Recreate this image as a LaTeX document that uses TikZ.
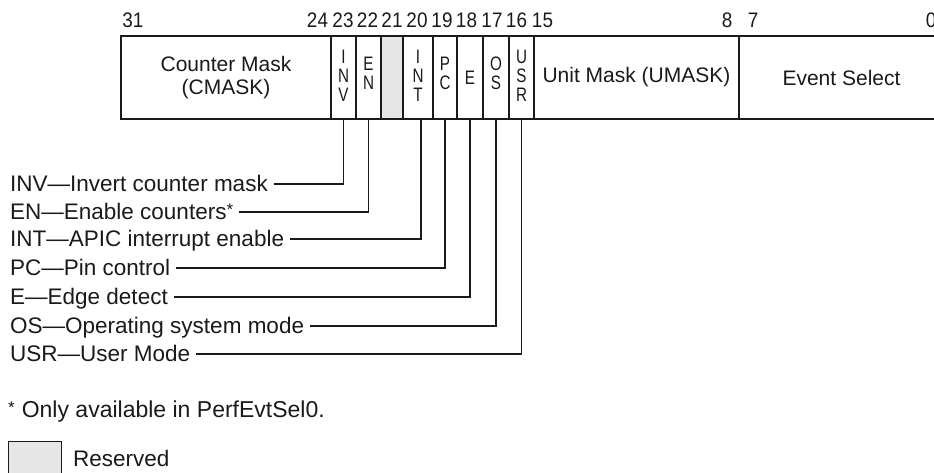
\documentclass[tikz,border=0pt]{standalone}
\usepackage{fontspec}
\setmainfont{Liberation Sans}
\newfontfamily\narrowdigits[FakeStretch=0.9]{Liberation Sans}
\newfontfamily\narrowcaps[FakeStretch=0.78]{Liberation Sans}
\definecolor{ink}{HTML}{1A1A1A}
\definecolor{resv}{HTML}{E6E6E6}
\newcommand\supast{\raisebox{3.5pt}{\fontsize{17}{17}\selectfont *}}
\begin{document}
\begin{tikzpicture}[x=1pt,y=-1pt,
  field/.style={draw=ink, line width=1.2pt, minimum height=83pt, inner sep=0pt,
    outer sep=0pt, anchor=north west, text=ink, align=center,
    font=\fontsize{21}{23}\selectfont},
  vtext/.style={inner sep=0pt, text=ink, align=center,
    font=\narrowcaps\fontsize{19.5}{19}\selectfont},
  bitnum/.style={anchor=base, text=ink, inner sep=0pt,
    font=\narrowdigits\fontsize{21}{24}\selectfont},
  legend/.style={anchor=base west, inner xsep=6pt, inner ysep=0pt, text height=17pt,
    text depth=3pt, text=ink, font=\fontsize{22.5}{26}\selectfont},
  lead/.style={draw=ink, line width=1.2pt}
]
\useasboundingbox (0,0) rectangle (934,472);

% register fields
\node[field, minimum width=210pt] (cmask) at (121,36) {Counter Mask\\(CMASK)};
\node[field, minimum width=25pt] (inv) at (331,36) {};
\node[field, minimum width=25pt] (en) at (356,36) {};
\node[field, fill=resv, minimum width=22pt] (res) at (381,36) {};
\node[field, minimum width=30pt] (int) at (403,36) {};
\node[field, minimum width=24pt] (pc) at (433,36) {};
\node[field, minimum width=26pt] (e) at (457,36) {};
\node[field, minimum width=26pt] (os) at (483,36) {};
\node[field, minimum width=25pt] (usr) at (509,36) {};
\node[field, minimum width=205pt] (umask) at (534,36) {Unit Mask (UMASK)};
\node[field, minimum width=205pt] (evsel) at (739,36) {Event Select};

% stacked field letters
\node[vtext] (tinv) at ([yshift=2pt]inv.center) {I\\N\\V};
\node[vtext] (ten) at ([yshift=4pt]en.center) {E\\N};
\node[vtext] (tint) at ([yshift=2pt]int.center) {I\\N\\T};
\node[vtext] (tpc) at ([yshift=4pt]pc.center) {P\\C};
\node[vtext] (te) at (e.center) {E};
\node[vtext] (tos) at ([yshift=4pt]os.center) {O\\S};
\node[vtext] (tusr) at ([yshift=2pt]usr.center) {U\\S\\R};

% bit numbers
\node[bitnum] (b31) at (133,27) {31};
\node[bitnum] (b24) at (317.5,27) {24};
\node[bitnum] (b23) at (343,27) {23};
\node[bitnum] (b22) at (367.5,27) {22};
\node[bitnum] (b21) at (392,27) {21};
\node[bitnum] (b20) at (417,27) {20};
\node[bitnum] (b19) at (442,27) {19};
\node[bitnum] (b18) at (466.5,27) {18};
\node[bitnum] (b17) at (492,27) {17};
\node[bitnum] (b16) at (516.5,27) {16};
\node[bitnum] (b15) at (542.5,27) {15};
\node[bitnum] (b8) at (727,27) {8};
\node[bitnum] (b7) at (753,27) {7};
\node[bitnum] (b0) at (931,27) {0};

% legend
\node[legend] (linv) at (4,191) {INV—Invert counter mask};
\node[legend] (len) at (4,219) {EN—Enable counters\supast};
\node[legend] (lint) at (4,246) {INT—APIC interrupt enable};
\node[legend] (lpc) at (4,275) {PC—Pin control};
\node[legend] (le) at (4,304) {E—Edge detect};
\node[legend] (los) at (4,333) {OS—Operating system mode};
\node[legend] (lusr) at (4,361) {USR—User Mode};

\draw[lead] (linv.east) -| (inv.south);
\draw[lead] (len.east) -| (en.south);
\draw[lead] (lint.east) -| ([xshift=3pt]int.south);
\draw[lead] (lpc.east) -| (pc.south);
\draw[lead] (le.east) -| (e.south);
\draw[lead] (los.east) -| (os.south);
\draw[lead] (lusr.east) -| (usr.south);

% footnote and key
\node[anchor=base west, inner sep=0pt, text=ink, font=\fontsize{23}{26}\selectfont]
  (fn) at (8,417) {\supast\hspace{7pt}Only available in PerfEvtSel0.};
\node[draw=ink, line width=1.2pt, fill=resv, minimum width=53pt, minimum height=40pt,
  inner sep=0pt, anchor=north west] (keybox) at (8,441) {};
\node[anchor=base west, inner sep=0pt, text=ink, font=\fontsize{22.5}{26}\selectfont]
  (keytext) at (73,466) {Reserved};
\end{tikzpicture}
\end{document}
